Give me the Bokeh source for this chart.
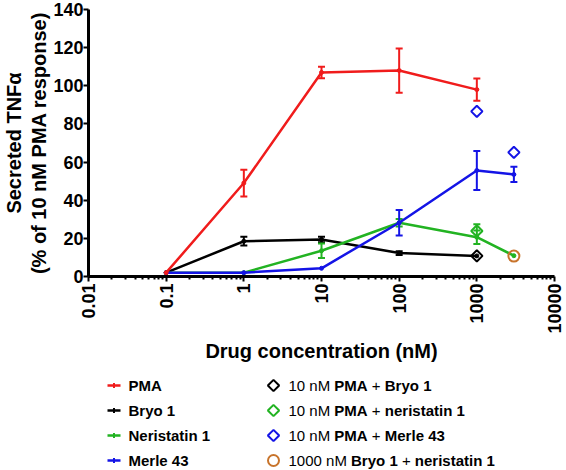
import math
from bokeh.plotting import figure
from bokeh.models import (ColumnDataSource, Whisker, TeeHead, FixedTicker,
                          CustomJSTickFormatter, Range1d)
from bokeh.layouts import column
from bokeh.core.properties import value
from bokeh.embed import file_html
from bokeh.resources import INLINE

FONT = "Liberation Sans"

# ---------------- data ----------------
x_ticks = [0.01, 0.1, 1, 10, 100, 1000, 10000]
x_tick_labels = ["0.01", "0.1", "1", "10", "100", "1000", "10000"]
y_ticks = [0, 20, 40, 60, 80, 100, 120, 140]

pma_conc = [0.1, 1, 10, 100, 1000]
pma_mean = [2, 49, 107, 108, 98]
pma_err = [0, 7, 3, 11.6, 5.8]

bryo_conc = [0.1, 1, 10, 100, 1000]
bryo_mean = [2, 18.5, 19.4, 12.3, 10.8]
bryo_err = [0, 2.3, 1.5, 1.0, 0]

nerist_conc = [0.1, 1, 10, 100, 1000, 3000]
nerist_mean = [2, 2, 13.5, 28.2, 20.6, 10.9]
nerist_err = [0, 0, 3.8, 2.0, 3.5, 0]

merle_conc = [0.1, 1, 10, 100, 1000, 3000]
merle_mean = [2, 2, 4.3, 28.2, 55.6, 53.5]
merle_err = [0, 0, 0, 6.7, 10.2, 4.0]

pma_bryo_conc = [1000]
pma_bryo_val = [10.8]

pma_nerist_conc = [1000]
pma_nerist_val = [23.9]
pma_nerist_err = [3.5]

pma_merle_conc = [1000, 3000]
pma_merle_val = [86.6, 65.1]

bryo_nerist_conc = [3000]
bryo_nerist_val = [10.7]

RED = "#F01C1C"
BLACK = "#000000"
GREEN = "#22B322"
BLUE = "#1414E6"
ORANGE = "#C8742C"

LEFT, RIGHT = 88, 12
DIAMOND = dict(marker="square", angle=math.pi / 4, size=8, fill_color=None, line_width=2)

# ---------------- main figure ----------------
p = figure(x_axis_type="log", x_range=Range1d(0.01, 10000), y_range=Range1d(0, 140),
           frame_width=566 - LEFT - RIGHT, frame_height=267,
           min_border_left=LEFT, min_border_right=RIGHT, min_border_top=9, min_border_bottom=97,
           output_backend="svg", toolbar_location=None)
p.grid.visible = False
p.outline_line_color = None
p.background_fill_color = "white"
p.border_fill_color = "white"

def series(xs, ys, errs, color):
    p.line(xs, ys, line_color=color, line_width=2.5)
    p.scatter(xs, ys, size=4, color=color)
    ex = [x for x, e in zip(xs, errs) if e > 0]
    ey = [y for y, e in zip(ys, errs) if e > 0]
    ee = [e for e in errs if e > 0]
    if ex:
        src = ColumnDataSource(dict(x=ex, upper=[y + e for y, e in zip(ey, ee)],
                                    lower=[y - e for y, e in zip(ey, ee)]))
        w = Whisker(source=src, base="x", upper="upper", lower="lower",
                    line_color=color, line_width=2,
                    upper_head=TeeHead(size=7, line_color=color, line_width=2),
                    lower_head=TeeHead(size=7, line_color=color, line_width=2))
        p.add_layout(w)

series(bryo_conc, bryo_mean, bryo_err, BLACK)
series(nerist_conc, nerist_mean, nerist_err, GREEN)
series(merle_conc, merle_mean, merle_err, BLUE)
series(pma_conc, pma_mean, pma_err, RED)

# combination markers
src_pn = ColumnDataSource(dict(x=pma_nerist_conc,
                               upper=[v + e for v, e in zip(pma_nerist_val, pma_nerist_err)],
                               lower=pma_nerist_val))
p.add_layout(Whisker(source=src_pn, base="x", upper="upper", lower="lower",
                     line_color=GREEN, line_width=2,
                     upper_head=TeeHead(size=7, line_color=GREEN, line_width=2),
                     lower_head=None))
p.scatter(pma_bryo_conc, pma_bryo_val, line_color=BLACK, **DIAMOND)
p.scatter(pma_nerist_conc, pma_nerist_val, line_color=GREEN, **DIAMOND)
p.scatter(pma_merle_conc, pma_merle_val, line_color=BLUE, **DIAMOND)
p.scatter(bryo_nerist_conc, bryo_nerist_val, marker="circle", size=11, fill_color=None,
          line_color=ORANGE, line_width=2)

# axes
minor = []
for d in x_ticks[:-1]:
    for k in range(2, 10):
        minor.append(d * k)
xa = p.xaxis[0]
xa.ticker = FixedTicker(ticks=x_ticks, minor_ticks=minor)
xa.formatter = CustomJSTickFormatter(args=dict(vals=x_ticks, labs=x_tick_labels), code="""
    let best = 0, bd = 1e9;
    for (let i = 0; i < vals.length; i++) {
        const d = Math.abs(Math.log10(vals[i]) - Math.log10(tick));
        if (d < bd) { bd = d; best = i; }
    }
    return labs[best];
""")
xa.major_label_orientation = math.pi / 2
xa.axis_label = "Drug concentration (nM)"
xa.axis_label_standoff = 3
xa.major_label_standoff = 2

ya = p.yaxis[0]
ya.ticker = FixedTicker(ticks=y_ticks, minor_ticks=[])
ya.axis_label = "Secreted TNFα\n(% of 10 nM PMA response)"
ya.axis_label_standoff = 0
ya.major_label_standoff = 0
ya.axis_label_text_line_height = 1.15

for ax in (xa, ya):
    ax.axis_line_width = 3
    ax.axis_line_color = "black"
    ax.major_tick_line_width = 2
    ax.major_tick_in = 0
    ax.major_tick_out = 5
    ax.minor_tick_line_width = 2
    ax.minor_tick_in = 0
    ax.minor_tick_out = 3
    ax.major_label_text_font = FONT
    ax.major_label_text_font_size = "18px"
    ax.major_label_text_font_style = "bold"
    ax.major_label_text_color = "black"
    ax.axis_label_text_font = FONT
    ax.axis_label_text_font_size = "20px"
    ax.axis_label_text_font_style = "bold"
    ax.axis_label_text_color = "black"

# ---------------- legend figure ----------------
LEG_W, LEG_H = 566, 97
lg = figure(width=LEG_W, height=LEG_H, x_range=Range1d(LEFT, LEG_W - RIGHT),
            y_range=Range1d(LEG_H, 0),
            min_border_left=LEFT, min_border_right=RIGHT, min_border_top=0, min_border_bottom=0,
            output_backend="svg", toolbar_location=None)
lg.axis.visible = False
lg.grid.visible = False
lg.outline_line_color = None

left_names = ["PMA", "Bryo 1", "Neristatin 1", "Merle 43"]
left_colors = [RED, BLACK, GREEN, BLUE]
right_segments = [
    [("10 nM ", False), ("PMA", True), (" + ", False), ("Bryo 1", True)],
    [("10 nM ", False), ("PMA", True), (" + ", False), ("neristatin 1", True)],
    [("10 nM ", False), ("PMA", True), (" + ", False), ("Merle 43", True)],
    [("1000 nM ", False), ("Bryo 1", True), (" + ", False), ("neristatin 1", True)],
]
right_colors = [BLACK, GREEN, BLUE, ORANGE]
right_markers = ["diamond", "diamond", "diamond", "circle"]

REG = {' ': 278, '0': 556, '1': 556, 'n': 556, 'M': 833, '+': 584}
BOLD = {' ': 278, 'P': 667, 'M': 833, 'A': 722, 'B': 722, 'r': 389, 'y': 556, 'o': 611,
        '1': 556, 'n': 611, 'e': 556, 'i': 278, 's': 556, 't': 333, 'a': 556, 'l': 278,
        '4': 556, '3': 556}
FS = 15

def width(txt, bold):
    tab = BOLD if bold else REG
    return sum(tab.get(c, 556) for c in txt) / 1000 * FS

rows_y = [12, 37, 62, 87]
for yy, name, col in zip(rows_y, left_names, left_colors):
    lg.line([107, 120], [yy, yy], line_color=col, line_width=2.5)
    lg.segment([113.5], [yy - 2.5], [113.5], [yy + 2.5], line_color=col, line_width=2)
    lg.text([128], [yy], text=[name], text_font=value(FONT), text_font_size=f"{FS}px",
            text_font_style="bold", text_baseline="middle", text_align="left", text_color="black")

for yy, segs, col, mk in zip(rows_y, right_segments, right_colors, right_markers):
    if mk == "diamond":
        lg.scatter([273], [yy], line_color=col, **DIAMOND)
    else:
        lg.scatter([273], [yy], marker="circle", size=11, fill_color=None,
                   line_color=col, line_width=2)
    x0 = 288
    for txt, bold in segs:
        lead = len(txt) - len(txt.lstrip(" "))
        shown = txt.strip(" ")
        lg.text([x0 + width(" " * lead, bold)], [yy], text=[shown], text_font=value(FONT),
                text_font_size=f"{FS}px", text_font_style="bold" if bold else "normal",
                text_baseline="middle", text_align="left", text_color="black")
        x0 += width(txt, bold)

layout = column(p, lg, spacing=0)
open("out.html", "w").write(file_html(layout, INLINE))
